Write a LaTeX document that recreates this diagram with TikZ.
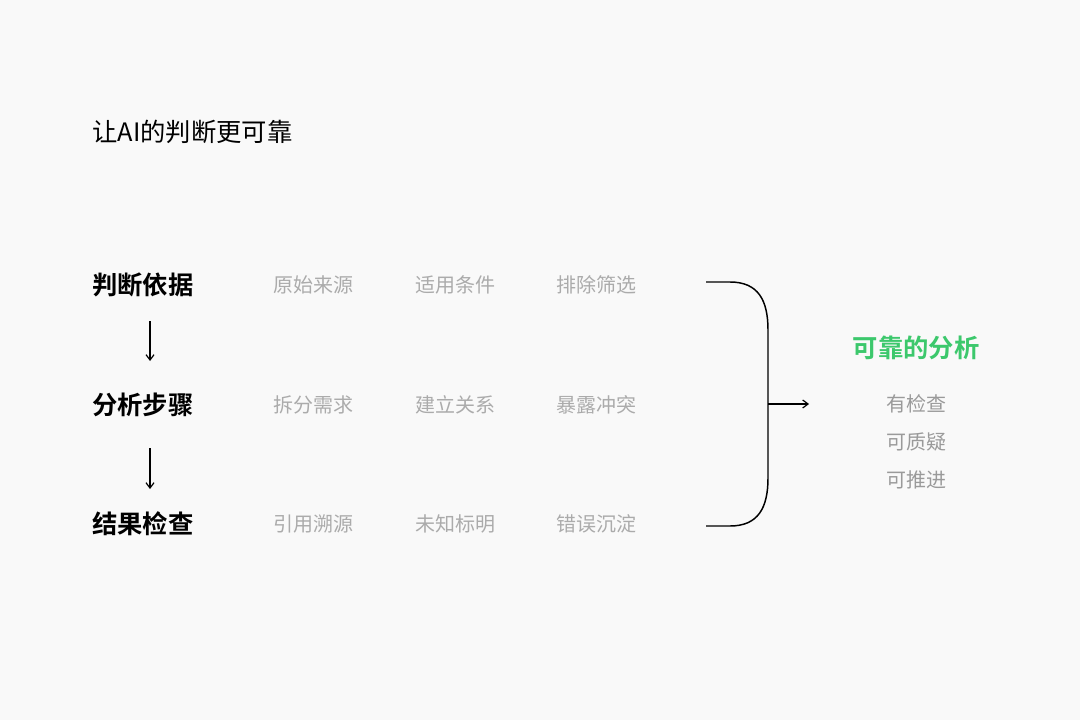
\documentclass[tikz,border=0pt]{standalone}
\usepackage{fontspec}
\setmainfont{Noto Sans CJK SC}
\newfontfamily\cjkbold{Noto Sans CJK SC Bold}
\usetikzlibrary{arrows.meta}
\definecolor{bg}{HTML}{F9F9F9}
\definecolor{itemc}{HTML}{ABABAB}
\definecolor{subc}{HTML}{9A9A9A}
\definecolor{grn}{HTML}{3CC86C}
\begin{document}
\begin{tikzpicture}[x=0.75pt,y=-0.75pt,
  head/.style={anchor=west,inner sep=0,font=\cjkbold\fontsize{19}{22}\selectfont,text=black},
  item/.style={inner sep=0,font=\fontsize{15}{18}\selectfont,text=itemc},
  sub/.style={inner sep=0,font=\fontsize{15}{18}\selectfont,text=subc},
  arr/.style={-{Straight Barb[length=4pt,width=6pt]},line width=0.9pt}]
\fill[bg] (0,0) rectangle (1080,720);
\useasboundingbox (0,0) rectangle (1080,720);
\node[anchor=west,inner sep=0,font=\fontsize{19}{22}\selectfont] (title) at (92,132) {让AI的判断更可靠};
\node[head] (h1) at (92,285) {判断依据};
\node[head] (h2) at (92,405) {分析步骤};
\node[head] (h3) at (92,524) {结果检查};
\coordinate (a1s) at (150,321); \coordinate (a1e) at (150,361);
\coordinate (a2s) at (150,448); \coordinate (a2e) at (150,489);
\draw[arr] (a1s) -- (a1e);
\draw[arr] (a2s) -- (a2e);
\foreach \t [count=\i] in {原始来源,适用条件,排除筛选}{\node[item] (r1\i) at (172+141.5*\i,285) {\t};}
\foreach \t [count=\i] in {拆分需求,建立关系,暴露冲突}{\node[item] (r2\i) at (172+141.5*\i,405) {\t};}
\foreach \t [count=\i] in {引用溯源,未知标明,错误沉淀}{\node[item] (r3\i) at (172+141.5*\i,524) {\t};}
\coordinate (bt) at (706,282); \coordinate (bb) at (706,526);
\coordinate (bm) at (768,404); \coordinate (be) at (809,404);
\draw[line width=1.1pt] (bt) -- (730,282) .. controls (758,282) and (768,300) .. (768,330) -- (768,478) .. controls (768,508) and (758,526) .. (730,526) -- (bb);
\draw[arr] (bm) -- (be);
\node[inner sep=0,font=\cjkbold\fontsize{19}{22}\selectfont,text=grn] (res) at (916,348) {可靠的分析};
\node[sub] (s1) at (916,404) {有检查};
\node[sub] (s2) at (916,442) {可质疑};
\node[sub] (s3) at (916,480) {可推进};
\end{tikzpicture}
\end{document}
